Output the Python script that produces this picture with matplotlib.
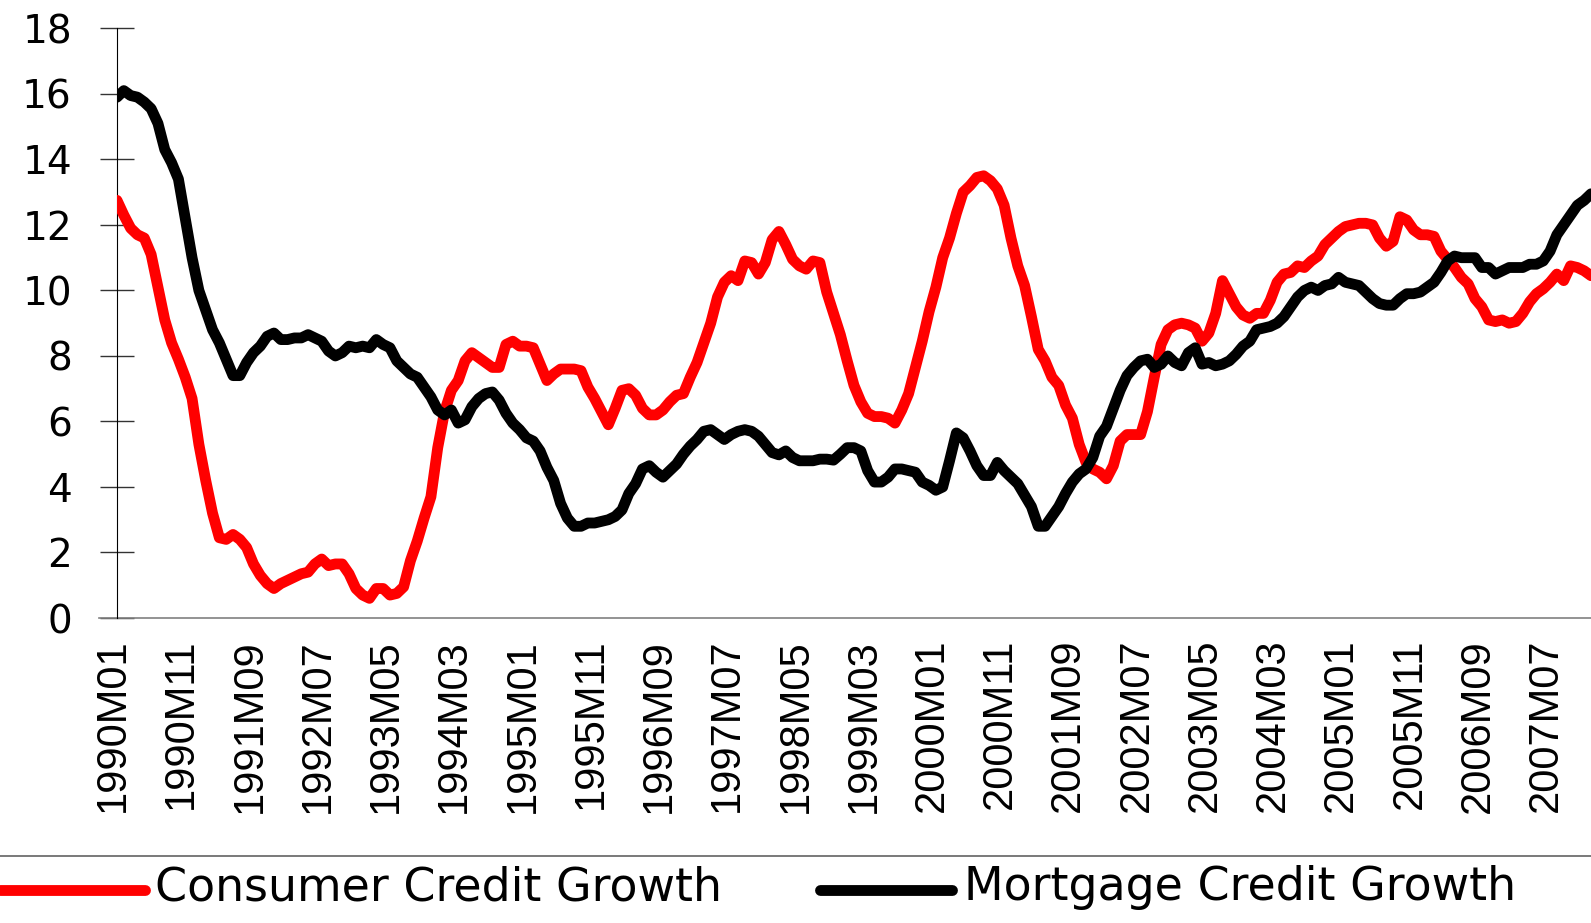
import matplotlib
matplotlib.use("Agg")
import matplotlib.pyplot as plt
from matplotlib.lines import Line2D
from matplotlib.transforms import ScaledTranslation

# monthly growth rates (%), 1990M01 .. 2008M01
consumer = [
    12.75, 12.3, 11.9, 11.7, 11.6, 11.1, 10.1, 9.1, 8.4, 7.9, 7.35, 6.7,
    5.3, 4.2, 3.2, 2.45, 2.4, 2.55, 2.4, 2.15, 1.65, 1.3, 1.05, 0.9,
    1.05, 1.15, 1.25, 1.35, 1.4, 1.65, 1.8, 1.6, 1.65, 1.65, 1.35, 0.9,
    0.7, 0.6, 0.9, 0.9, 0.7, 0.75, 0.95, 1.75, 2.35, 3.05, 3.7, 5.2,
    6.3, 6.95, 7.25, 7.85, 8.1, 7.95, 7.8, 7.65, 7.65, 8.35, 8.45, 8.3,
    8.3, 8.25, 7.75, 7.25, 7.45, 7.6, 7.6, 7.6, 7.55, 7.05, 6.7, 6.3,
    5.9, 6.4, 6.95, 7.0, 6.8, 6.4, 6.2, 6.2, 6.35, 6.6, 6.8, 6.85,
    7.35, 7.8, 8.4, 9.0, 9.8, 10.25, 10.45, 10.3, 10.9, 10.85, 10.5, 10.85,
    11.55, 11.8, 11.4, 10.95, 10.75, 10.65, 10.9, 10.85, 9.95, 9.3, 8.65, 7.85,
    7.1, 6.6, 6.25, 6.15, 6.15, 6.1, 5.95, 6.35, 6.85, 7.65, 8.45, 9.35,
    10.1, 11.0, 11.6, 12.35, 13.0, 13.2, 13.45, 13.5, 13.35, 13.1, 12.6, 11.6,
    10.75, 10.15, 9.2, 8.2, 7.85, 7.35, 7.1, 6.5, 6.1, 5.3, 4.75, 4.55,
    4.45, 4.25, 4.65, 5.4, 5.6, 5.6, 5.6, 6.3, 7.35, 8.35, 8.8, 8.95,
    9.0, 8.95, 8.85, 8.45, 8.7, 9.3, 10.3, 9.9, 9.5, 9.25, 9.15, 9.3,
    9.3, 9.7, 10.25, 10.5, 10.55, 10.75, 10.7, 10.9, 11.05, 11.4, 11.6, 11.8,
    11.95, 12.0, 12.05, 12.05, 12.0, 11.6, 11.35, 11.5, 12.25, 12.15, 11.85, 11.7,
    11.7, 11.65, 11.2, 10.95, 10.7, 10.4, 10.2, 9.75, 9.5, 9.1, 9.05, 9.1,
    9.0, 9.05, 9.3, 9.65, 9.9, 10.05, 10.25, 10.5, 10.3, 10.75, 10.7, 10.6,
    10.45,
]
mortgage = [
    15.9, 16.1, 15.95, 15.9, 15.75, 15.55, 15.1, 14.3, 13.9, 13.4, 12.2, 11.0,
    10.0, 9.4, 8.8, 8.4, 7.9, 7.4, 7.4, 7.8, 8.1, 8.3, 8.6, 8.7,
    8.5, 8.5, 8.55, 8.55, 8.65, 8.55, 8.45, 8.15, 8.0, 8.1, 8.3, 8.25,
    8.3, 8.25, 8.5, 8.35, 8.25, 7.85, 7.65, 7.45, 7.35, 7.05, 6.75, 6.35,
    6.2, 6.35, 5.95, 6.05, 6.45, 6.7, 6.85, 6.9, 6.65, 6.25, 5.95, 5.75,
    5.5, 5.4, 5.1, 4.6, 4.2, 3.5, 3.05, 2.8, 2.8, 2.9, 2.9, 2.95,
    3.0, 3.1, 3.3, 3.8, 4.1, 4.55, 4.65, 4.45, 4.3, 4.5, 4.7, 5.0,
    5.25, 5.45, 5.7, 5.75, 5.6, 5.45, 5.6, 5.7, 5.75, 5.7, 5.55, 5.3,
    5.05, 4.98, 5.1, 4.9, 4.8, 4.8, 4.8, 4.85, 4.85, 4.82, 5.0, 5.2,
    5.2, 5.1, 4.5, 4.15, 4.15, 4.3, 4.55, 4.55, 4.5, 4.45, 4.15, 4.05,
    3.9, 4.0, 4.8, 5.65, 5.5, 5.1, 4.65, 4.35, 4.35, 4.75, 4.5, 4.3,
    4.1, 3.75, 3.4, 2.8, 2.8, 3.1, 3.4, 3.8, 4.15, 4.4, 4.55, 4.9,
    5.55, 5.85, 6.4, 6.95, 7.4, 7.65, 7.85, 7.9, 7.65, 7.75, 8.0, 7.8,
    7.7, 8.1, 8.25, 7.75, 7.8, 7.7, 7.75, 7.85, 8.05, 8.3, 8.45, 8.8,
    8.85, 8.9, 9.0, 9.2, 9.5, 9.8, 10.0, 10.1, 10.0, 10.15, 10.2, 10.4,
    10.25, 10.2, 10.15, 9.95, 9.75, 9.6, 9.55, 9.55, 9.75, 9.9, 9.9, 9.95,
    10.1, 10.25, 10.55, 10.9, 11.05, 11.0, 11.0, 11.0, 10.7, 10.7, 10.5, 10.6,
    10.7, 10.7, 10.7, 10.8, 10.8, 10.9, 11.2, 11.7, 12.0, 12.3, 12.6, 12.75,
    12.95,
]
months = [f"{1990 + i // 12}M{i % 12 + 1:02d}" for i in range(len(consumer))]
y_ticks = [0, 2, 4, 6, 8, 10, 12, 14, 16, 18]
series_names = ["Consumer Credit Growth", "Mortgage Credit Growth"]
series_colors = ["#ff0000", "#000000"]

W, H = 1591, 923
fig = plt.figure(figsize=(W / 100, H / 100), dpi=100)
ax = fig.add_axes([117 / W, 1 - 618 / H, 1 - 117 / W, (618 - 28.4) / H])

x = list(range(len(months)))
for vals, col, z in [(consumer, series_colors[0], 3), (mortgage, series_colors[1], 4)]:
    ax.plot(x, vals, color=col, lw=7.8, solid_joinstyle="round",
            solid_capstyle="round", zorder=z)

ax.set_xlim(0, len(months) - 1)
ax.set_ylim(0, 18)

for s in ["top", "right", "bottom"]:
    ax.spines[s].set_visible(False)
ax.spines["left"].set_linewidth(0.8)
ax.spines["left"].set_color("black")
# grey category axis, sticking out a bit to the left
ax.axhline(0, xmin=-18 / 1474, xmax=1, color="#808080", lw=1.2, clip_on=False, zorder=2)

ax.set_yticks(y_ticks)
ax.set_yticklabels([str(v) for v in y_ticks], fontfamily="DejaVu Sans", fontsize=28)
ax.tick_params(axis="y", direction="inout", length=25, width=1.0, color="#333333", pad=20)

ax.set_xticks(x[::10])
ax.set_xticklabels(months[::10], rotation=90, fontfamily="Liberation Sans", fontsize=30)
ax.tick_params(axis="x", length=0, pad=15)
shift = ScaledTranslation(-4 / 100, 0, fig.dpi_scale_trans)
for lab in ax.get_xticklabels():
    lab.set_transform(lab.get_transform() + shift)

# legend strip below the chart
fig.add_artist(Line2D([0, 1], [1 - 856 / H, 1 - 856 / H], color="#555555", lw=1.1))
leg_y = 1 - 890 / H
handles = [(0 / W, 145 / W), (820 / W, 952 / W)]
text_x = [155 / W, 964 / W]
for (x0, x1), tx, name, col in zip(handles, text_x, series_names, series_colors):
    fig.add_artist(Line2D([x0, x1], [leg_y, leg_y], color=col, lw=7.8, solid_capstyle="round"))
    fig.text(tx, 1 - 888 / H, name, fontfamily="DejaVu Sans", fontsize=33, va="center", ha="left")

fig.savefig("out.png", dpi=100)
